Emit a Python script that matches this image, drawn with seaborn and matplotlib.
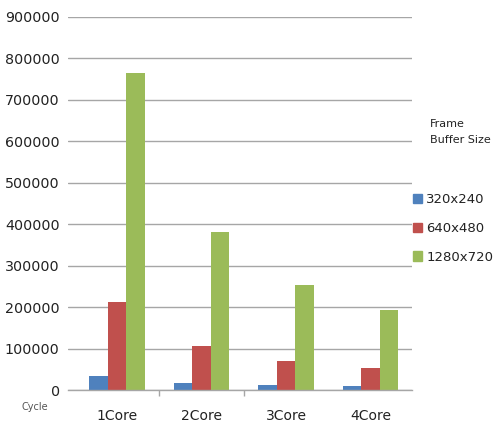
import matplotlib
matplotlib.use("Agg")
import matplotlib.pyplot as plt
import seaborn as sns
import pandas as pd

cores = ["1Core", "2Core", "3Core", "4Core"]
sizes = ["320x240", "640x480", "1280x720"]
cycles_320 = [34500, 16000, 12000, 10000]
cycles_640 = [212000, 106000, 71000, 54000]
cycles_1280 = [765000, 382000, 254000, 192000]
yticks = [0, 100000, 200000, 300000, 400000, 500000, 600000, 700000, 800000, 900000]
colors = ["#4F81BD", "#C0504D", "#9BBB59"]

rows = []
for size, vals in zip(sizes, [cycles_320, cycles_640, cycles_1280]):
    for core, v in zip(cores, vals):
        rows.append({"core": core, "size": size, "cycle": v})
df = pd.DataFrame(rows)

sns.set_style("white")
plt.rcParams["font.family"] = ["DejaVu Sans"]

fig = plt.figure(figsize=(4.96, 4.25), dpi=100)
W, H = 496, 425
ax = fig.add_axes([68 / W, 1 - 390 / H, (412 - 68) / W, (390 - 17) / H])

sns.barplot(data=df, x="core", y="cycle", hue="size", palette=colors,
            width=0.657, gap=0, ax=ax, legend=False, saturation=1,
            linewidth=0, edgecolor="none")

ax.set_ylim(0, 900000)
ax.set_xlim(-0.58, 3.49)
ax.set_yticks(yticks)
ax.set_yticklabels([str(t) for t in yticks], fontsize=10.3, color="#222222")
ax.yaxis.grid(True, color="#A6A6A6", linewidth=1)
ax.set_axisbelow(True)
for s in ["left", "right", "top"]:
    ax.spines[s].set_visible(False)
ax.spines["bottom"].set_color("#A6A6A6")
ax.spines["bottom"].set_linewidth(1)
ax.tick_params(axis="y", length=0, pad=6)
ax.tick_params(axis="x", which="major", length=0, pad=14, labelsize=10,
               labelcolor="#222222")
ax.set_xticks([0.5, 1.5], minor=True)
ax.tick_params(axis="x", which="minor", bottom=True, length=4,
               direction="out", color="#A6A6A6", width=1)
ax.set_xlabel("")
ax.set_ylabel("")

fig.text(22 / W, 1 - 407 / H, "Cycle", fontsize=7, color="#555555",
         va="center", ha="left")

# legend
fig.text(430 / W, 1 - 124 / H, "Frame", fontsize=8, color="#222222",
         va="center", ha="left")
fig.text(430 / W, 1 - 140 / H, "Buffer Size", fontsize=8, color="#222222",
         va="center", ha="left")
handles = [plt.Rectangle((0, 0), 1, 1, color=c) for c in colors]
fig.legend(handles, sizes, loc="upper left",
           bbox_to_anchor=(413 / W, 1 - 193 / H), frameon=False,
           handlelength=0.7, handleheight=0.7, handletextpad=0.3,
           labelspacing=1.2, fontsize=9.5, labelcolor="#222222",
           borderaxespad=0, borderpad=0)

fig.savefig("out.png", dpi=100)
